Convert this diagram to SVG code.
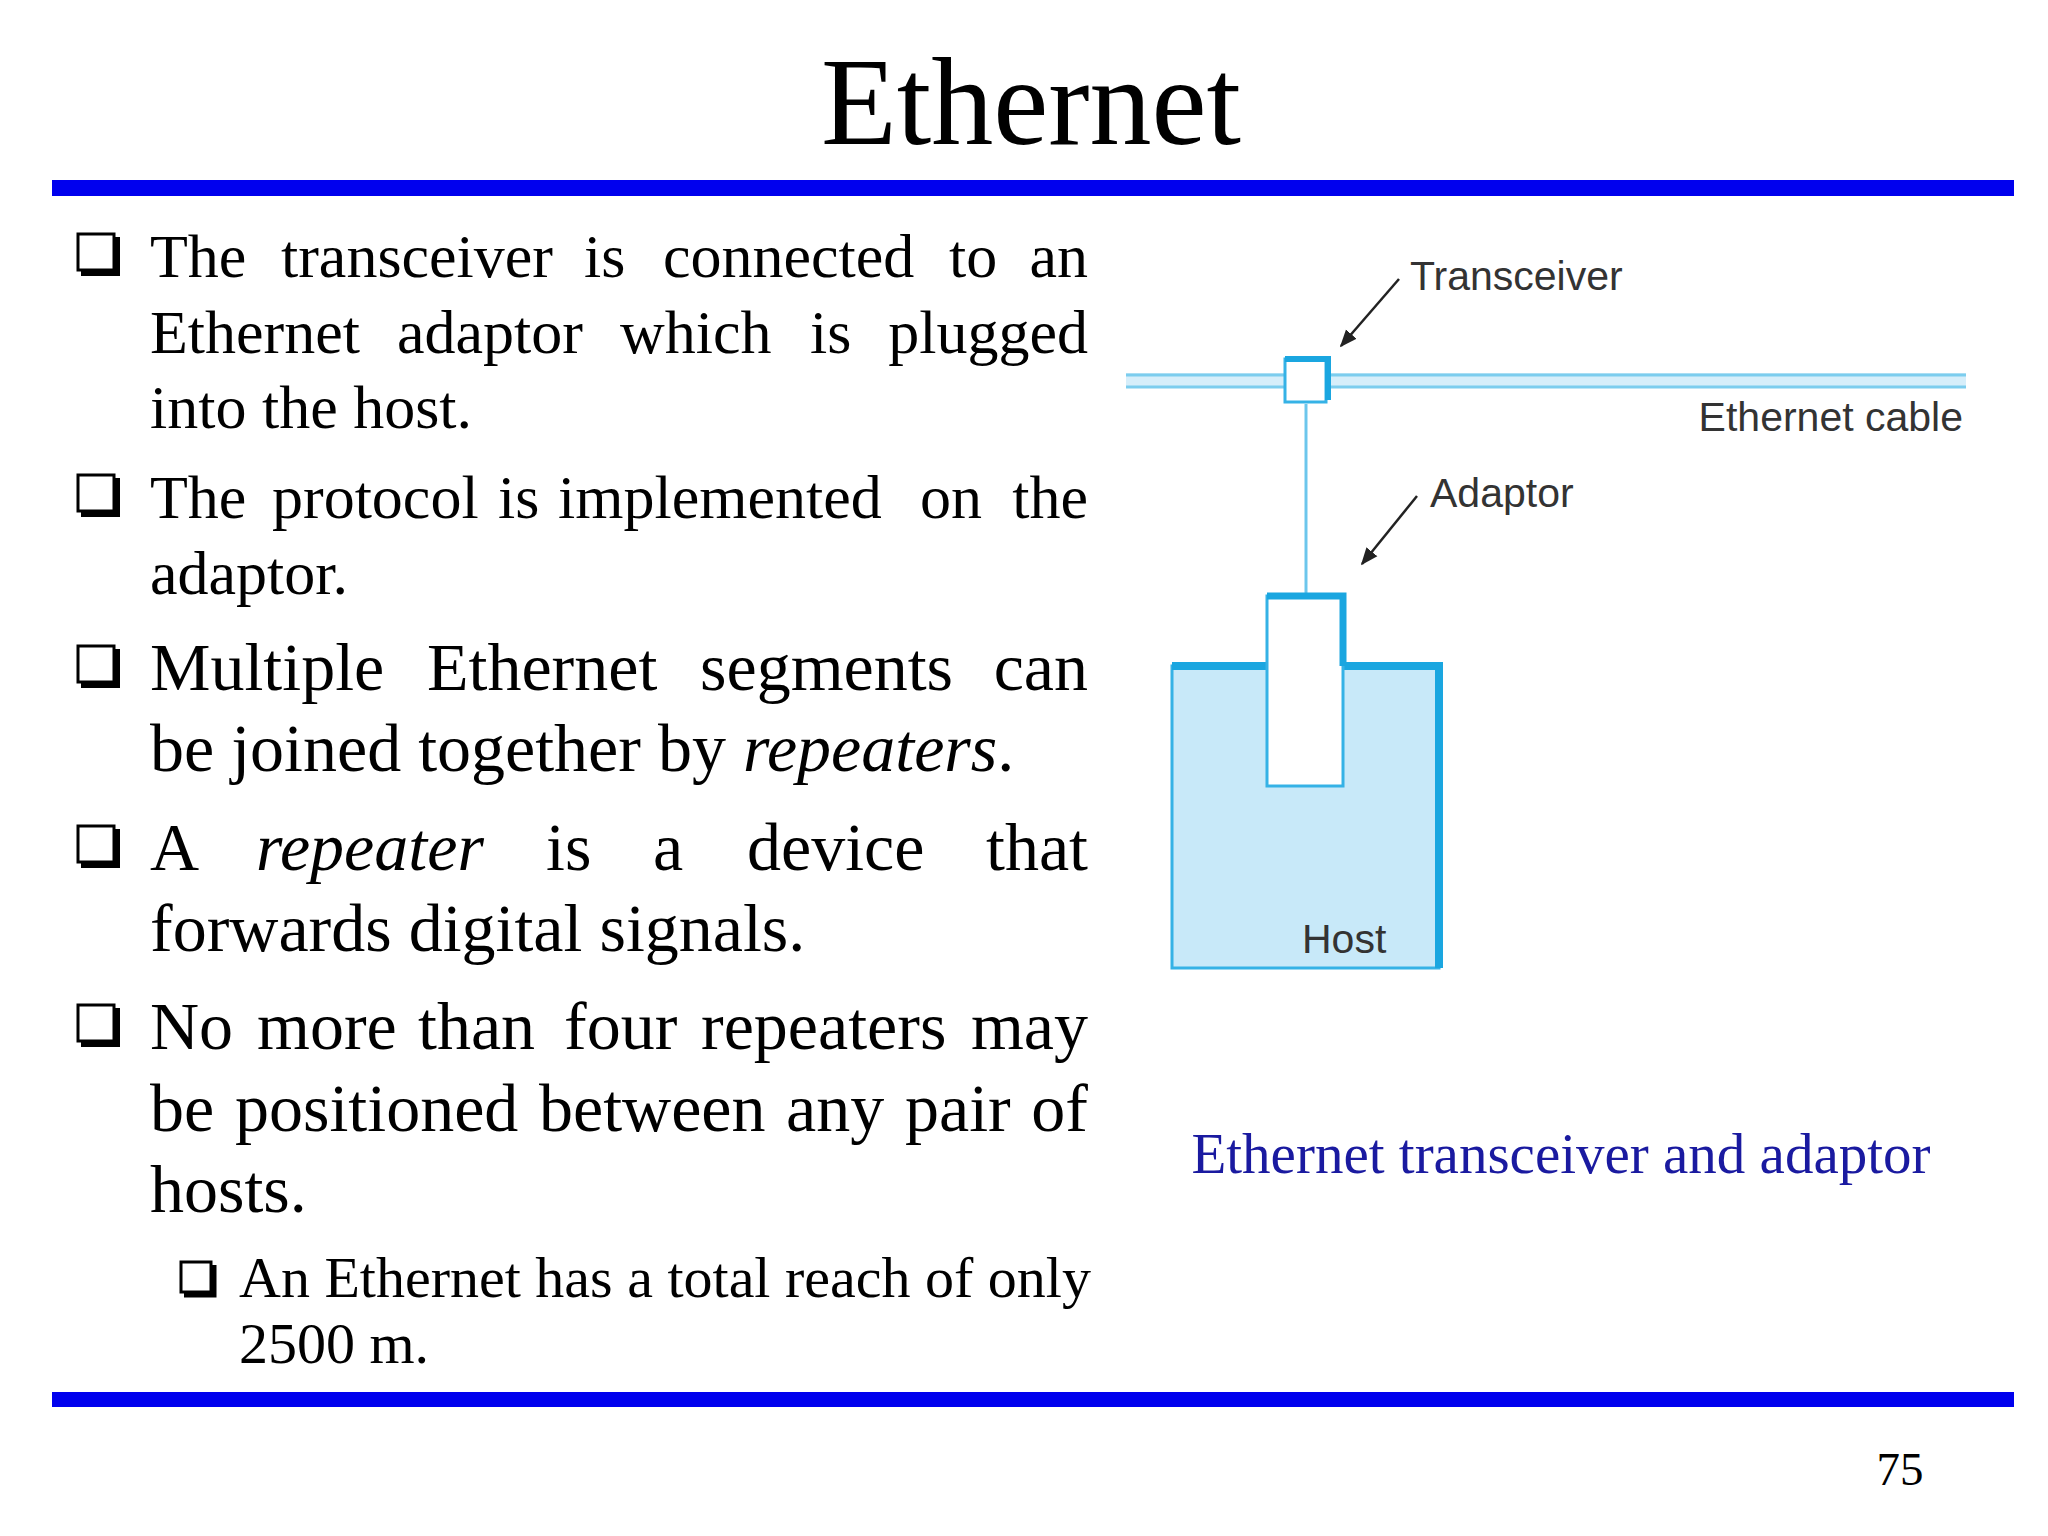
<svg xmlns="http://www.w3.org/2000/svg" width="2048" height="1536" viewBox="0 0 2048 1536">
<style>
.t{font-family:"Liberation Serif",serif;fill:#000}
.b{font-size:62px}
.c{font-size:68px}
.s{font-size:58px}
.e{text-anchor:end}
.d{font-family:"Liberation Sans",Arial,sans-serif;font-size:41px;fill:#333}
.box{fill:#fff;stroke:#000;stroke-width:3}
.sh{fill:none;stroke:#000;stroke-width:6}
</style>
<defs>
<marker id="ah" viewBox="0 0 10 10" refX="9" refY="5" markerWidth="7" markerHeight="7" orient="auto"><path d="M0,1 L10,5 L0,9 Z" fill="#222"/></marker>
<g id="cb"><rect class="box" x="0" y="0" width="36" height="36"/><path class="sh" d="M3,39 H39 V3"/></g>
<g id="cbs"><rect class="box" x="0" y="0" width="30" height="30"/><path class="sh" d="M3,33 H33 V3" style="stroke-width:5"/></g>
</defs>
<rect width="2048" height="1536" fill="#fff"/>
<text class="t" x="1031" y="144" font-size="124" text-anchor="middle">Ethernet</text>
<rect x="52" y="180" width="1962" height="16" fill="#0000ee"/>
<rect x="52" y="1392" width="1962" height="15" fill="#0000ee"/>
<text class="t" x="1900" y="1485" font-size="47" text-anchor="middle">75</text>

<g id="bullets">
<use href="#cb" x="78" y="234"/>
<text class="t b" y="277"><tspan x="150">The</tspan><tspan x="281">transceiver</tspan><tspan x="584">is</tspan><tspan x="663">connected</tspan><tspan x="949">to</tspan><tspan x="1088" class="e">an</tspan></text>
<text class="t b" y="353"><tspan x="150">Ethernet</tspan><tspan x="397">adaptor</tspan><tspan x="620">which</tspan><tspan x="810">is</tspan><tspan x="1088" class="e">plugged</tspan></text>
<text class="t b" x="150" y="428">into the host.</text>
<use href="#cb" x="78" y="475"/>
<text class="t b" y="518"><tspan x="150">The</tspan><tspan x="272">protocol</tspan><tspan x="498">is</tspan><tspan x="558">implemented</tspan><tspan x="920">on</tspan><tspan x="1088" class="e">the</tspan></text>
<text class="t b" x="150" y="594">adaptor.</text>
<use href="#cb" x="78" y="646"/>
<text class="t c" y="690"><tspan x="150">Multiple</tspan><tspan x="427">Ethernet</tspan><tspan x="700">segments</tspan><tspan x="1088" class="e">can</tspan></text>
<text class="t c" x="150" y="771">be joined together by <tspan font-style="italic">repeaters</tspan>.</text>
<use href="#cb" x="78" y="826"/>
<text class="t c" y="870"><tspan x="150">A</tspan><tspan x="256" font-style="italic">repeater</tspan><tspan x="546">is</tspan><tspan x="653">a</tspan><tspan x="747">device</tspan><tspan x="1088" class="e">that</tspan></text>
<text class="t c" x="150" y="951">forwards digital signals.</text>
<use href="#cb" x="78" y="1005"/>
<text class="t c" y="1049"><tspan x="150">No</tspan><tspan x="257">more</tspan><tspan x="418">than</tspan><tspan x="564">four</tspan><tspan x="701">repeaters</tspan><tspan x="1088" class="e">may</tspan></text>
<text class="t c" y="1131"><tspan x="150">be</tspan><tspan x="235">positioned</tspan><tspan x="539">between</tspan><tspan x="786">any</tspan><tspan x="905">pair</tspan><tspan x="1088" class="e">of</tspan></text>
<text class="t c" x="150" y="1212">hosts.</text>
<use href="#cbs" x="181" y="1262"/>
<text class="t s" x="239" y="1297">An Ethernet has a total reach of only</text>
<text class="t s" x="239" y="1363">2500 m.</text>
</g>

<g id="cable">
<rect x="1126" y="373" width="840" height="15" fill="#d6eefa"/>
<line x1="1126" y1="375" x2="1966" y2="375" stroke="#7ccdee" stroke-width="3"/>
<line x1="1126" y1="387" x2="1966" y2="387" stroke="#7ccdee" stroke-width="3"/>
<text class="d" x="1963" y="431" text-anchor="end">Ethernet cable</text>
</g>
<g id="connectors">
<line x1="1306" y1="404" x2="1306" y2="594" stroke="#6cc6ec" stroke-width="3"/>
<line x1="1399" y1="279" x2="1341" y2="346" stroke="#222" stroke-width="2.5" marker-end="url(#ah)"/>
<line x1="1417" y1="496" x2="1362" y2="564" stroke="#222" stroke-width="2.5" marker-end="url(#ah)"/>
</g>
<g id="transceiver">
<rect x="1285" y="359" width="41" height="43" fill="#fff" stroke="#35b2e6" stroke-width="3"/>
<path d="M1285,359 H1328 V400" fill="none" stroke="#1aa6e0" stroke-width="6"/>
<text class="d" x="1410" y="290">Transceiver</text>
</g>
<g id="host">
<rect x="1172" y="666" width="267" height="302" fill="#c8e9f9" stroke="#35b2e6" stroke-width="3"/>
<path d="M1172,666 H1439 V968" fill="none" stroke="#1aa6e0" stroke-width="8"/>
<text class="d" x="1302" y="953" font-size="39">Host</text>
</g>
<g id="adaptor">
<rect x="1267" y="596" width="76" height="190" fill="#fff" stroke="#35b2e6" stroke-width="3"/>
<path d="M1267,596 H1343 V666" fill="none" stroke="#1aa6e0" stroke-width="7"/>
<text class="d" x="1430" y="507">Adaptor</text>
</g>
<text x="1561" y="1173" font-family="Liberation Serif,serif" font-size="57" fill="#1a1aa0" text-anchor="middle">Ethernet transceiver and adaptor</text>
</svg>
